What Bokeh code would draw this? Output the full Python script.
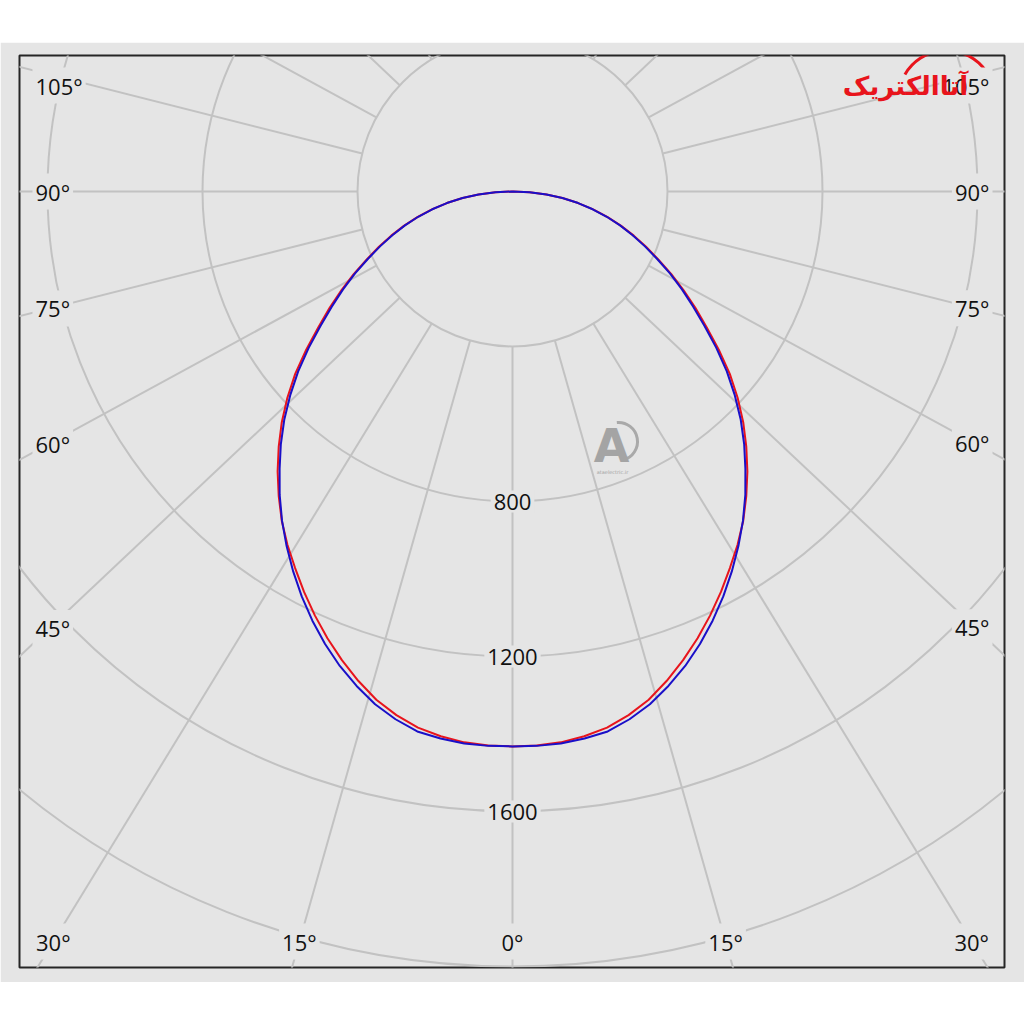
import numpy as np
from bokeh.plotting import figure
from bokeh.models import Range1d, Label
from bokeh.embed import file_html
from bokeh.resources import INLINE

# ---------------- data ----------------
gamma_deg = [0, 2.5, 5, 7.5, 10, 12.5, 15, 17.5, 20, 22.5, 25, 27.5, 30, 32.5, 35, 37.5, 40, 42.5, 45,
             47.5, 50, 52.5, 55, 57.5, 60, 62.5, 65, 67.5, 70, 72.5, 75, 77.5, 80, 82.5, 85, 87.5, 90]
c0_c180 = [1432, 1431, 1427, 1418, 1405, 1384, 1358, 1324, 1287, 1248, 1207, 1165, 1122, 1081, 1038, 991,
           943, 893, 842, 788, 732, 671, 612, 560, 510, 462, 415, 373, 333, 293, 253, 213, 172, 130, 88, 44, 0]   # red
c90_c270 = [1432, 1432, 1430, 1424, 1415, 1395, 1370, 1338, 1303, 1264, 1222, 1178, 1132, 1085, 1037, 987,
            935, 885, 833, 778, 722, 663, 605, 553, 505, 458, 412, 370, 330, 291, 252, 212, 172, 130, 88, 44, 0]  # blue
ring_values = [400, 800, 1200, 1600, 2000]
ring_label_values = [800, 1200, 1600]
angle_tick_values = [0, 15, 30, 45, 60, 75, 90, 105]
logo_text = "آتاالکتریک"
watermark_text = "ataelectric.ir"

# ---------------- layout / style ----------------
S = 0.3875            # px per cd
CX, CY = 512, 191     # page position of the pole
FL, FR, FT, FB = 19, 1004, 55, 967
FIG_T, FIG_B = 42, 982
W, H = 1024, FIG_B - FIG_T
K = 0.943             # grid ray vertical factor as drawn in the reference
BG = "#e5e5e5"
GRID = "#c2c2c2"
RED = "#e8141c"
BLUE = "#1a0fc8"
FONT = "Open Sans"
FS = "22px"


def X(px):
    return (px - CX) / S


def Y(py):
    return (CY - py) / S


p = figure(width=W, height=H,
           x_range=Range1d(X(FL), X(FR)), y_range=Range1d(Y(FB), Y(FT)),
           output_backend="svg", toolbar_location=None,
           min_border_left=FL, min_border_right=W - FR,
           min_border_top=FT - FIG_T, min_border_bottom=FIG_B - FB)
p.styles = {"margin-left": "0px", "margin-top": f"{FIG_T}px"}
p.xaxis.visible = False
p.yaxis.visible = False
p.xgrid.visible = False
p.ygrid.visible = False
p.background_fill_color = BG
p.border_fill_color = BG
p.outline_line_color = "#262626"
p.outline_line_width = 2

# rings
p.circle(x=[0] * len(ring_values), y=[0] * len(ring_values), radius=ring_values,
         fill_color=None, line_color=GRID, line_width=2)

# radial rays, starting on the innermost ring
x0, y0, x1, y1 = [], [], [], []
for a in range(0, 360, 15):
    t = np.radians(a)
    dx, dy = np.sin(t), -K * np.cos(t)
    n = np.hypot(dx, dy)
    dx, dy = dx / n, dy / n
    x0.append(ring_values[0] * dx)
    y0.append(ring_values[0] * dy)
    x1.append(5000 * dx)
    y1.append(5000 * dy)
p.segment(x0, y0, x1, y1, line_color=GRID, line_width=2)

# curves
g = np.radians(np.array(gamma_deg, float))


def polar_xy(vals):
    v = np.array(vals, float)
    ang = np.concatenate([-g[::-1], g[1:]])
    r = np.concatenate([v[::-1], v[1:]])
    return r * np.sin(ang), -r * np.cos(ang)


xr, yr = polar_xy(c0_c180)
xb, yb = polar_xy(c90_c270)
p.line(xr, yr, line_color=RED, line_width=2)
p.line(xb, yb, line_color=BLUE, line_width=2)

# ring value labels on the 0 deg ray
for v in ring_label_values:
    p.add_layout(Label(x=0, y=-v, text=str(v), text_align="center", text_baseline="middle",
                       text_font=FONT, text_font_size=FS, text_color="#111111",
                       background_fill_color=BG, padding=3))

# angle labels
LBL_L, LBL_R, LBL_B, LBL_T = 32, 992, 941, 85


def angle_label(a):
    t = np.radians(a)
    dx, dy = np.sin(t), K * np.cos(t)
    cands = []
    if dx > 1e-9:
        cands.append((974 - CX) / dx)
    if dx < -1e-9:
        cands.append((49 - CX) / dx)
    if dy > 1e-9:
        cands.append((LBL_B - CY) / dy)
    tt = min(cands)
    px, py = CX + tt * dx, CY + tt * dy
    py = max(py, LBL_T)
    if abs(py - LBL_B) < 1:
        return X(px), Y(py), "center"
    return (X(LBL_L), Y(py), "left") if dx < 0 else (X(LBL_R), Y(py), "right")


for a in angle_tick_values:
    sides = [a] if a == 0 else [a, -a]
    for s_a in sides:
        lx, ly, al = angle_label(s_a)
        p.add_layout(Label(x=lx, y=ly, text=f"{a}°", text_align=al, text_baseline="middle",
                           text_font=FONT, text_font_size=FS, text_color="#111111",
                           background_fill_color=BG, padding=3))

# watermark in the middle
p.arc(x=X(618), y=Y(441), radius=19 / S, start_angle=np.radians(-75), end_angle=np.radians(95),
      line_color="#a9a9a9", line_width=3)
p.add_layout(Label(x=X(611), y=Y(445), text="A", text_align="center", text_baseline="middle",
                   text_font="DejaVu Sans", text_font_style="bold", text_font_size="46px",
                   text_color="#a4a4a4"))
p.add_layout(Label(x=X(612), y=Y(471), text=watermark_text, text_align="center", text_baseline="middle",
                   text_font="DejaVu Sans", text_font_size="5px", text_color="#a4a4a4"))

# logo top right
p.arc(x=X(946), y=Y(98), radius=48 / S, start_angle=np.radians(35), end_angle=np.radians(150),
      line_color=RED, line_width=3)
p.add_layout(Label(x=X(905), y=Y(85), text=logo_text, text_align="center", text_baseline="middle",
                   text_font="DejaVu Sans", text_font_style="bold", text_font_size="26px",
                   text_color=RED))

open("out.html", "w").write(file_html(p, INLINE))
